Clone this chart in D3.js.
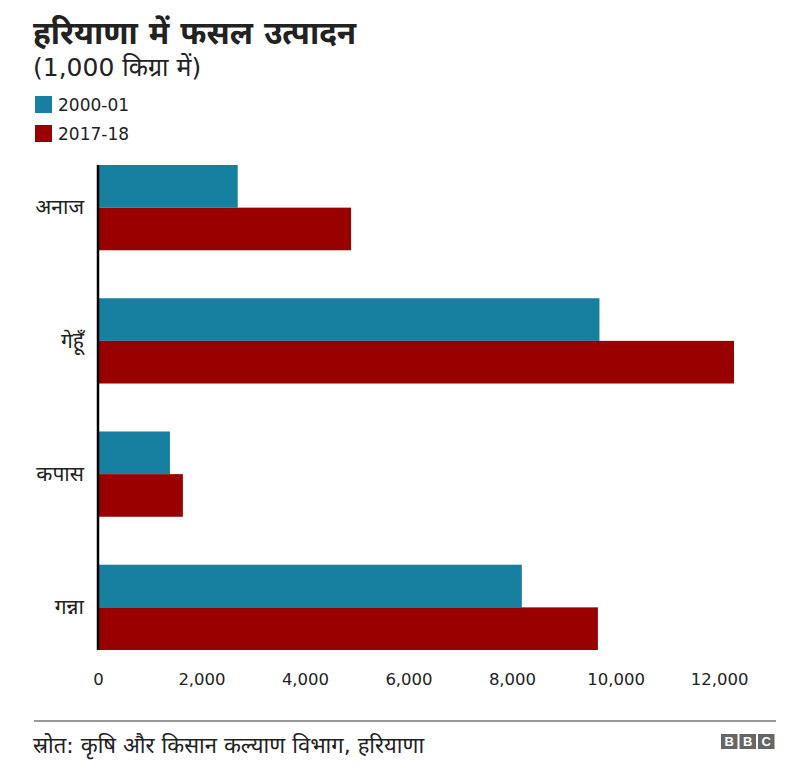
<!DOCTYPE html>
<html>
<head>
<meta charset="utf-8">
<script src="https://cdn.jsdelivr.net/npm/d3@7"></script>
<style>
  html, body { margin: 0; padding: 0; background: #fff; }
  svg { display: block; font-family: "DejaVu Sans", "Noto Sans", sans-serif; }
</style>
</head>
<body>
<svg id="chart" width="808" height="769"></svg>
<script>
const categories = ["अनाज", "गेहूँ", "कपास", "गन्ना"];
const seriesNames = ["2000-01", "2017-18"];
const values2000 = [2700, 9690, 1390, 8190];
const values2017 = [4890, 12290, 1640, 9660];
const tickValues = [0, 2000, 4000, 6000, 8000, 10000, 12000];
const colors = ["#1780a1", "#990000"];

const title = "हरियाणा में फसल उत्पादन";
const subtitle = "(1,000 किग्रा में)";
const source = "स्रोत: कृषि और किसान कल्याण विभाग, हरियाणा";

const svg = d3.select("#chart");

const x = d3.scaleLinear().domain([0, 12000]).range([98, 719]);
const y = d3.scaleBand().domain(categories).range([165, 650]).paddingInner(0.36).paddingOuter(0);
const ySub = d3.scaleBand().domain(seriesNames).range([0, y.bandwidth()]);

// Title
svg.append("text").attr("x", 33).attr("y", 44)
  .attr("font-size", 31.5).attr("font-weight", "bold").attr("fill", "#222")
  .text(title);
svg.append("text").attr("x", 33).attr("y", 76)
  .attr("font-size", 25).attr("fill", "#222")
  .text(subtitle);

// Legend
const legend = svg.append("g");
seriesNames.forEach((s, i) => {
  const g = legend.append("g").attr("transform", `translate(35, ${96 + i * 29})`);
  g.append("rect").attr("width", 17).attr("height", 17).attr("fill", colors[i]);
  g.append("text").attr("x", 23).attr("y", 9).attr("dy", "0.35em")
    .attr("font-size", 17).attr("fill", "#222").text(s);
});

// Bars
const groups = svg.append("g").selectAll("g").data(categories).join("g")
  .attr("transform", d => `translate(0, ${y(d)})`);
const series = [values2000, values2017];
groups.each(function(c, ci) {
  const g = d3.select(this);
  seriesNames.forEach((s, si) => {
    g.append("rect")
      .attr("x", x(0))
      .attr("y", ySub(s))
      .attr("width", x(series[si][ci]) - x(0))
      .attr("height", ySub.bandwidth())
      .attr("fill", colors[si]);
  });
});

// Y axis
const yAxis = svg.append("g").attr("transform", `translate(${x(0)}, 0)`)
  .call(d3.axisLeft(y).tickSize(0).tickPadding(14));
yAxis.select(".domain").attr("stroke", "#000").attr("stroke-width", 2.5)
  .attr("d", `M0,${y.range()[0]}V${y.range()[1]}`);
yAxis.selectAll("text").attr("font-size", 21).attr("fill", "#222")
  .attr("font-family", "'DejaVu Sans', 'Noto Sans', sans-serif");

// X axis
const xAxis = svg.append("g").attr("transform", `translate(0, 673)`)
  .call(d3.axisBottom(x).tickValues(tickValues).tickSize(0).tickPadding(0)
    .tickFormat(d3.format(",")));
xAxis.select(".domain").remove();
xAxis.selectAll("text").attr("font-size", 16.5).attr("fill", "#222")
  .attr("font-family", "'DejaVu Sans', sans-serif");

// Footer
svg.append("line").attr("x1", 34).attr("x2", 776).attr("y1", 721).attr("y2", 721)
  .attr("stroke", "#333").attr("stroke-width", 1);
svg.append("text").attr("x", 33).attr("y", 753)
  .attr("font-size", 22).attr("fill", "#222").text(source);

// BBC logo
const logo = svg.append("g").attr("transform", "translate(721, 734)");
["B", "B", "C"].forEach((ch, i) => {
  logo.append("rect").attr("x", i * 18.5).attr("y", 0).attr("width", 16.5).attr("height", 15)
    .attr("fill", "#666");
  logo.append("text").attr("x", i * 18.5 + 8.25).attr("y", 7.5).attr("dy", "0.36em")
    .attr("text-anchor", "middle").attr("font-size", 13).attr("font-weight", "bold")
    .attr("fill", "#fff").attr("font-family", "'Liberation Sans', Arial, sans-serif").text(ch);
});
</script>
</body>
</html>
